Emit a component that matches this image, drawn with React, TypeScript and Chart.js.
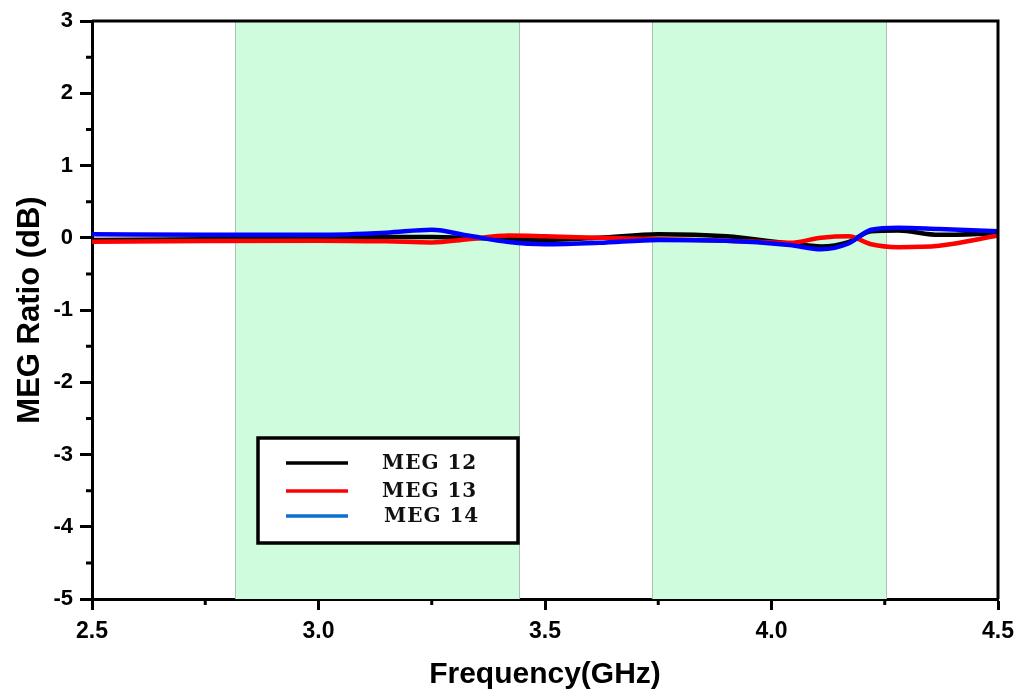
import React, { useEffect, useRef } from "react";
import { Chart, registerables } from "chart.js";

Chart.register(...registerables);

const freq = [2.5, 2.75, 3.0, 3.15, 3.25, 3.33, 3.42, 3.5, 3.62, 3.75, 3.9, 4.04, 4.11, 4.17, 4.22, 4.28, 4.37, 4.5];
const meg12 = [-0.03, -0.02, 0.0, 0.01, 0.01, 0.0, -0.02, -0.03, 0.0, 0.05, 0.02, -0.08, -0.12, -0.06, 0.09, 0.1, 0.04, 0.06];
const meg13 = [-0.055, -0.045, -0.04, -0.05, -0.065, -0.02, 0.03, 0.02, 0.0, -0.02, -0.04, -0.07, 0.0, 0.02, -0.09, -0.13, -0.11, 0.03];
const meg14 = [0.05, 0.04, 0.04, 0.07, 0.11, 0.03, -0.06, -0.09, -0.07, -0.03, -0.04, -0.1, -0.16, -0.08, 0.11, 0.14, 0.12, 0.09];

const seriesLabels = ["MEG 12", "MEG 13", "MEG 14"];
const seriesColors = ["#000000", "#ff0000", "#0000ff"];
const legendColors = ["#000000", "#ff0000", "#0b6fd1"];

const bandStarts = [2.816, 3.736];
const bandEnds = [3.443, 4.253];

const xMinorTicks = [2.75, 3.25, 3.75, 4.25];
const yMinorTicks = [2.5, 1.5, 0.5, -0.5, -1.5, -2.5, -3.5, -4.5];

const bandsPlugin = {
  id: "bands",
  beforeDatasetsDraw(chart: any) {
    const { ctx, chartArea, scales } = chart;
    ctx.save();
    for (let i = 0; i < bandStarts.length; i++) {
      const x1 = scales.x.getPixelForValue(bandStarts[i]);
      const x2 = scales.x.getPixelForValue(bandEnds[i]);
      ctx.fillStyle = "rgb(207, 252, 221)";
      ctx.fillRect(x1, chartArea.top, x2 - x1, chartArea.bottom - chartArea.top);
      ctx.strokeStyle = "rgb(170, 195, 178)";
      ctx.lineWidth = 1;
      ctx.beginPath();
      ctx.moveTo(Math.round(x1) + 0.5, chartArea.top);
      ctx.lineTo(Math.round(x1) + 0.5, chartArea.bottom);
      ctx.moveTo(Math.round(x2) + 0.5, chartArea.top);
      ctx.lineTo(Math.round(x2) + 0.5, chartArea.bottom);
      ctx.stroke();
    }
    ctx.restore();
  },
};

const framePlugin = {
  id: "frame",
  afterDraw(chart: any) {
    const { ctx, chartArea, scales } = chart;
    const { left, right, top, bottom } = chartArea;
    ctx.save();
    ctx.strokeStyle = "#000";
    ctx.lineWidth = 3;
    ctx.beginPath();
    ctx.moveTo(left, top);
    ctx.lineTo(right, top);
    ctx.lineTo(right, bottom);
    ctx.stroke();
    // minor ticks
    ctx.beginPath();
    for (const v of yMinorTicks) {
      const y = scales.y.getPixelForValue(v);
      ctx.moveTo(left, y);
      ctx.lineTo(left - 6, y);
    }
    for (const v of xMinorTicks) {
      const x = scales.x.getPixelForValue(v);
      ctx.moveTo(x, bottom);
      ctx.lineTo(x, bottom + 6);
    }
    ctx.stroke();

    // legend
    const bx = left + 166;
    const by = top + 417;
    const bw = 260;
    const bh = 105;
    ctx.fillStyle = "#fff";
    ctx.fillRect(bx, by, bw, bh);
    ctx.lineWidth = 3.5;
    ctx.strokeRect(bx, by, bw, bh);
    ctx.font = "bold 20px 'DejaVu Serif'";
    (ctx as any).letterSpacing = "1px";
    ctx.textBaseline = "middle";
    ctx.textAlign = "left";
    const rows = [25, 53, 78];
    const textX = [124, 124, 126];
    seriesLabels.forEach((lab, i) => {
      const y = by + rows[i];
      ctx.strokeStyle = legendColors[i];
      ctx.lineWidth = 3.5;
      ctx.beginPath();
      ctx.moveTo(bx + 28, y);
      ctx.lineTo(bx + 90, y);
      ctx.stroke();
      ctx.fillStyle = "#111";
      ctx.fillText(lab, bx + textX[i], y + 1);
    });
    ctx.restore();
  },
};

export default function App() {
  const ref = useRef<HTMLCanvasElement | null>(null);
  useEffect(() => {
    document.body.style.margin = "0";
    const canvas = ref.current!;
    const seriesData = [meg12, meg13, meg14];
    const chart = new Chart(canvas, {
      type: "line",
      data: {
        datasets: seriesData.map((s, i) => ({
          label: seriesLabels[i],
          data: freq.map((f, j) => ({ x: f, y: s[j] })),
          borderColor: seriesColors[i],
          backgroundColor: seriesColors[i],
          borderWidth: 4.5,
          pointRadius: 0,
          cubicInterpolationMode: "monotone" as const,
          order: 3 - i,
        })),
      },
      options: {
        animation: false,
        responsive: false,
        devicePixelRatio: 1,
        layout: { padding: { top: 21, right: 34, left: 0, bottom: 0 } },
        plugins: { legend: { display: false }, tooltip: { enabled: false } },
        scales: {
          x: {
            type: "linear",
            min: 2.5,
            max: 4.5,
            afterFit(scale: any) {
              scale.height = 94;
            },
            ticks: {
              stepSize: 0.5,
              padding: 8,
              color: "#000",
              font: { family: "'Liberation Sans', Arial", weight: "bold", size: 23 },
              callback: (v: any) => Number(v).toFixed(1),
              maxRotation: 0,
            },
            grid: {
              drawOnChartArea: false,
              drawTicks: true,
              tickLength: 11,
              tickWidth: 3,
              tickColor: "#000",
            },
            border: { display: true, width: 3, color: "#000" },
            title: {
              display: true,
              text: "Frequency(GHz)",
              color: "#000",
              font: { family: "'Liberation Sans', Arial", weight: "bold", size: 30 },
              padding: { top: 0, bottom: 0 },
            },
          },
          y: {
            min: -5,
            max: 3,
            afterFit(scale: any) {
              scale.width = 92;
            },
            ticks: {
              stepSize: 1,
              padding: 7,
              color: "#000",
              font: { family: "'Liberation Sans', Arial", weight: "bold", size: 22 },
            },
            grid: {
              drawOnChartArea: false,
              drawTicks: true,
              tickLength: 12,
              tickWidth: 3,
              tickColor: "#000",
            },
            border: { display: true, width: 3, color: "#000" },
            title: {
              display: true,
              text: "MEG Ratio (dB)",
              color: "#000",
              font: { family: "'Liberation Sans', Arial", weight: "bold", size: 31 },
              padding: { top: 12, bottom: 0 },
            },
          },
        },
      },
      plugins: [bandsPlugin, framePlugin],
    });
    return () => chart.destroy();
  }, []);
  return (
    <div style={{ position: "relative", width: 1032, height: 693 }}>
      <canvas ref={ref} width={1032} height={693} style={{ display: "block" }} />
    </div>
  );
}
